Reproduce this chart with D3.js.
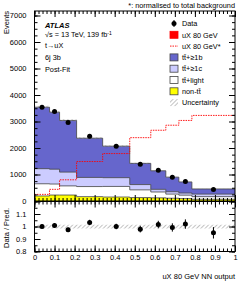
<!DOCTYPE html>
<html>
<head>
<meta charset="utf-8">
<script src="https://cdn.jsdelivr.net/npm/d3@7"></script>
<style>
  body { margin: 0; background: #fff; }
  svg { display: block; }
  text { font-family: "Liberation Sans", Arial, sans-serif; }
</style>
</head>
<body>
<svg id="chart" width="249" height="281"></svg>
<script>
const binEdges = [0, 0.075, 0.125, 0.21, 0.34, 0.475, 0.58, 0.655, 0.72, 0.785, 1];
const nonTT   = [190, 225, 225, 165, 150, 130, 120, 105, 90, 65];
const ttLight = [460, 415, 345, 380, 400, 290, 220, 155, 130, 100];
const ttC     = [570, 560, 520, 345, 330, 200, 100, 90, 80, 95];
const ttB     = [2320, 2150, 1950, 1480, 1190, 800, 700, 550, 420, 195];
const dataVals = [3540, 3377, 2958, 2448, 2070, 1390, 1158, 893, 734, 432];
const signalNorm = [250, 440, 800, 1490, 1790, 2390, 2670, 2860, 3040, 3230];
const uncFrac = 0.015;
const yTicks = [0, 1000, 2000, 3000, 4000, 5000, 6000, 7000];
const xTicks = [0, 0.1, 0.2, 0.3, 0.4, 0.5, 0.6, 0.7, 0.8, 0.9, 1];
const ratioTicks = [0.8, 0.9, 1, 1.1];

const svg = d3.select("#chart");
const left = 34.5, right = 235;
const mainTop = 11, mainBot = 201;
const ratTop = 201.5, ratBot = 251.5;

const x = d3.scaleLinear().domain([0, 1]).range([left, right]);
const y = d3.scaleLinear().domain([0, 7170]).range([mainBot, mainTop]);
const r = d3.scaleLinear().domain([0.8, 1.2]).range([ratBot, ratTop]);

// stack the layers
const layers = [
  { vals: nonTT, fill: "#ffff00" },
  { vals: ttLight, fill: "#ffffff" },
  { vals: ttC, fill: "#ccccff" },
  { vals: ttB, fill: "#6666cc" }
];
let base = binEdges.slice(1).map(() => 0);
layers.forEach(l => {
  l.lo = base.slice();
  l.hi = base.map((b, i) => b + l.vals[i]);
  base = l.hi;
});
const total = base;

function stepPts(lo, hi) {
  let pts = [];
  for (let i = 0; i < hi.length; i++) {
    pts.push({ x: binEdges[i], lo: lo[i], hi: hi[i] });
    pts.push({ x: binEdges[i + 1], lo: lo[i], hi: hi[i] });
  }
  return pts;
}

// hatch pattern
const defs = svg.append("defs");
const pat = defs.append("pattern").attr("id", "hatch")
  .attr("width", 3).attr("height", 3)
  .attr("patternUnits", "userSpaceOnUse")
  .attr("patternTransform", "rotate(45)");
pat.append("line").attr("x1", 0).attr("y1", 0).attr("x2", 0).attr("y2", 3)
  .attr("stroke", "#888").attr("stroke-width", 1);
defs.append("clipPath").attr("id", "clipMain").append("rect")
  .attr("x", left).attr("y", mainTop).attr("width", right - left).attr("height", mainBot - mainTop);

const plot = svg.append("g").attr("clip-path", "url(#clipMain)");

const area = d3.area().x(d => x(d.x)).y0(d => y(d.lo)).y1(d => y(d.hi));
const topLine = d3.line().x(d => x(d.x)).y(d => y(d.hi));

layers.forEach(l => {
  const pts = stepPts(l.lo, l.hi);
  plot.append("path").attr("d", area(pts)).attr("fill", l.fill);
});
layers.forEach(l => {
  const pts = stepPts(l.lo, l.hi);
  plot.append("path").attr("d", topLine(pts)).attr("fill", "none")
    .attr("stroke", "#444").attr("stroke-width", 0.8);
});

// uncertainty band on total
const uncPts = stepPts(total.map(t => t * (1 - uncFrac)), total.map(t => t * (1 + uncFrac)));
plot.append("path").attr("d", area(uncPts)).attr("fill", "url(#hatch)");

// signal normalised to background
const sigPts = stepPts(signalNorm, signalNorm);
plot.append("path").attr("d", topLine(sigPts)).attr("fill", "none")
  .attr("stroke", "#ff0000").attr("stroke-width", 0.9).attr("stroke-dasharray", "1.5,1");

// data points
const centers = binEdges.slice(1).map((e, i) => (e + binEdges[i]) / 2);
dataVals.forEach((d, i) => {
  const err = Math.sqrt(d);
  plot.append("line").attr("x1", x(centers[i])).attr("x2", x(centers[i]))
    .attr("y1", y(d - err)).attr("y2", y(d + err)).attr("stroke", "#000");
  plot.append("circle").attr("cx", x(centers[i])).attr("cy", y(d)).attr("r", 2.5).attr("fill", "#000");
});

// ratio panel
const rArea = d3.area().x(d => x(d.x)).y0(d => r(d.lo)).y1(d => r(d.hi));
const ones = total.map(() => 1);
svg.append("path").attr("d", rArea(stepPts(ones.map(v => v - uncFrac), ones.map(v => v + uncFrac))))
  .attr("fill", "url(#hatch)");
dataVals.forEach((d, i) => {
  const ratio = d / total[i];
  const err = Math.sqrt(d) / total[i];
  svg.append("line").attr("x1", x(centers[i])).attr("x2", x(centers[i]))
    .attr("y1", r(ratio - err)).attr("y2", r(ratio + err)).attr("stroke", "#000");
  svg.append("circle").attr("cx", x(centers[i])).attr("cy", r(ratio)).attr("r", 2.5).attr("fill", "#000");
});

// frames and ticks
function frame(top, bot, yScale, majors, minors, fmt, showX) {
  svg.append("rect").attr("x", left).attr("y", top).attr("width", right - left).attr("height", bot - top)
    .attr("fill", "none").attr("stroke", "#000").attr("stroke-width", 1);
  const strip = g => g.select(".domain").remove();
  svg.append("g").attr("transform", `translate(${left},0)`)
    .call(d3.axisLeft(yScale).tickValues(minors).tickSize(-3).tickFormat("")).call(strip);
  svg.append("g").attr("transform", `translate(${left},0)`)
    .call(d3.axisLeft(yScale).tickValues(majors).tickSize(-6).tickPadding(8).tickFormat(fmt))
    .call(strip).call(g => g.selectAll("text").attr("font-size", 7.5).attr("font-family", null));
  svg.append("g").attr("transform", `translate(${right},0)`)
    .call(d3.axisRight(yScale).tickValues(minors).tickSize(-3).tickFormat("")).call(strip);
  svg.append("g").attr("transform", `translate(${right},0)`)
    .call(d3.axisRight(yScale).tickValues(majors).tickSize(-6).tickFormat("")).call(strip);
  const xMinors = d3.range(0, 1.001, 0.02);
  svg.append("g").attr("transform", `translate(0,${top})`)
    .call(d3.axisTop(x).tickValues(xMinors).tickSize(-3).tickFormat("")).call(strip);
  svg.append("g").attr("transform", `translate(0,${top})`)
    .call(d3.axisTop(x).tickValues(xTicks).tickSize(-6).tickFormat("")).call(strip);
  svg.append("g").attr("transform", `translate(0,${bot})`)
    .call(d3.axisBottom(x).tickValues(xMinors).tickSize(-3).tickFormat("")).call(strip);
  svg.append("g").attr("transform", `translate(0,${bot})`)
    .call(d3.axisBottom(x).tickValues(xTicks).tickSize(-6).tickPadding(3)
      .tickFormat(showX ? d3.format("") : ""))
    .call(strip).call(g => g.selectAll("text").attr("font-size", 7.5).attr("font-family", null));
}
frame(mainTop, mainBot, y, yTicks, d3.range(0, 7170, 250), d3.format("d"), false);
frame(ratTop, ratBot, r, ratioTicks.concat([1.2]), d3.range(0.8, 1.2001, 0.05),
  d => d === 1.2 ? "" : d3.format("")(d), true);

// axis titles
svg.append("text").attr("transform", "translate(9,11) rotate(-90)").attr("text-anchor", "end")
  .attr("font-size", 7.5).text("Events");
svg.append("text").attr("transform", "translate(9,228) rotate(-90)").attr("text-anchor", "middle")
  .attr("font-size", 7.5).text("Data / Pred.");
svg.append("text").attr("x", right).attr("y", 279).attr("text-anchor", "end")
  .attr("font-size", 7.5).text("uX 80 GeV NN output");
svg.append("text").attr("x", right).attr("y", 7.5).attr("text-anchor", "end")
  .attr("font-size", 7.3).text("*: normalised to total background");

// labels
svg.append("text").attr("x", 45).attr("y", 27.5).attr("font-size", 7.5)
  .attr("font-weight", "bold").attr("font-style", "italic").text("ATLAS");
const lumi = svg.append("text").attr("x", 45).attr("y", 37).attr("font-size", 7.3);
lumi.append("tspan").text("\u221As = 13 TeV, 139 fb");
lumi.append("tspan").attr("dy", -2.5).attr("font-size", 5).text("-1");
svg.append("text").attr("x", 45).attr("y", 47.5).attr("font-size", 7.3).text("t\u2192uX");
svg.append("text").attr("x", 45).attr("y", 60).attr("font-size", 7.3).text("6j 3b");
svg.append("text").attr("x", 45).attr("y", 72).attr("font-size", 7.3).text("Post-Fit");

// legend
const legend = [
  { label: "Data", kind: "data" },
  { label: "uX 80 GeV", kind: "box", fill: "#ff0000" },
  { label: "uX 80 GeV*", kind: "dash" },
  { label: "tt\u0304+\u22651b", kind: "box", fill: "#6666cc" },
  { label: "tt\u0304+\u22651c", kind: "box", fill: "#ccccff" },
  { label: "tt\u0304+light", kind: "box", fill: "#ffffff" },
  { label: "non-tt\u0304", kind: "box", fill: "#ffff00" },
  { label: "Uncertainty", kind: "hatch" }
];
legend.forEach((l, i) => {
  const cy = 23.5 + 11.3 * i;
  const g = svg.append("g");
  if (l.kind === "data") {
    g.append("line").attr("x1", 174).attr("x2", 174).attr("y1", cy - 3.5).attr("y2", cy + 3.5).attr("stroke", "#000");
    g.append("circle").attr("cx", 174).attr("cy", cy).attr("r", 2.5).attr("fill", "#000");
  } else if (l.kind === "box") {
    g.append("rect").attr("x", 170).attr("y", cy - 3.5).attr("width", 8).attr("height", 7)
      .attr("fill", l.fill).attr("stroke", l.fill === "#ff0000" ? "#ff0000" : "#444").attr("stroke-width", 0.8);
  } else if (l.kind === "dash") {
    g.append("line").attr("x1", 170).attr("x2", 178).attr("y1", cy).attr("y2", cy)
      .attr("stroke", "#ff0000").attr("stroke-width", 0.9).attr("stroke-dasharray", "1.5,1");
  } else {
    g.append("rect").attr("x", 170).attr("y", cy - 3.5).attr("width", 8).attr("height", 7).attr("fill", "url(#hatch)");
  }
  g.append("text").attr("x", 182).attr("y", cy + 2.7).attr("font-size", 7.3).text(l.label);
});
</script>
</body>
</html>
